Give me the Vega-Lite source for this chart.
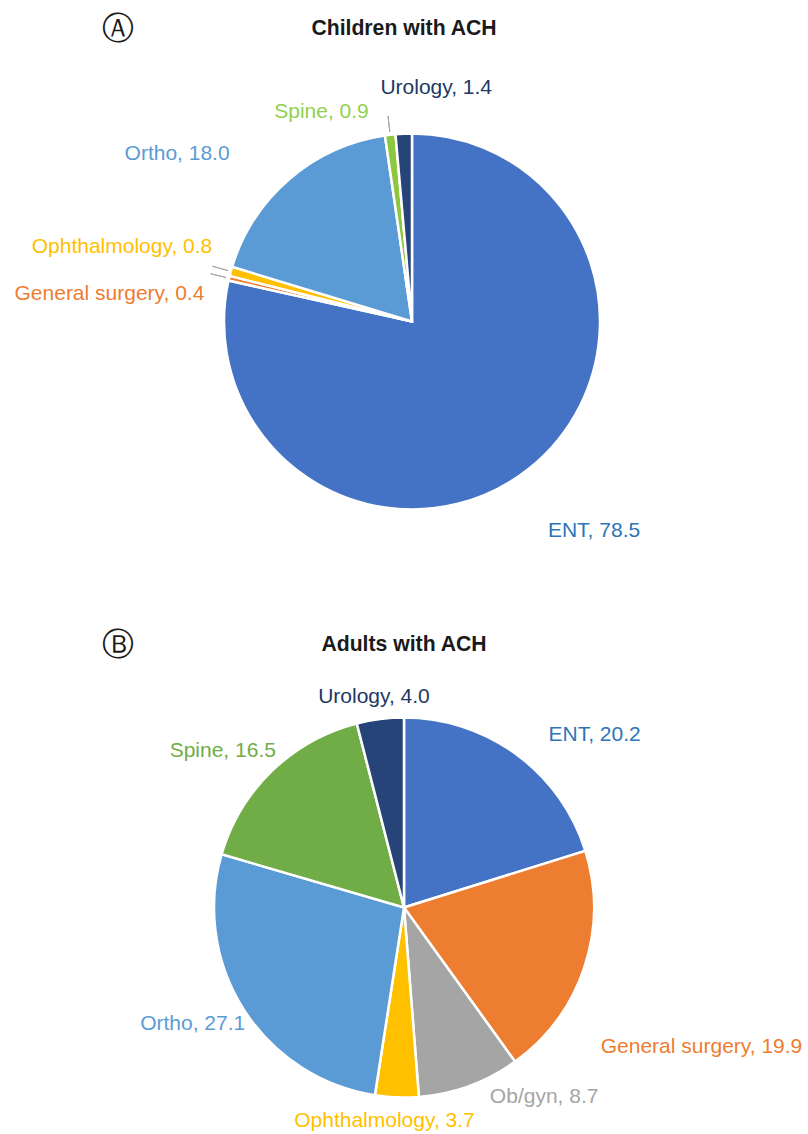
{
  "$schema": "https://vega.github.io/schema/vega-lite/v6.json",
  "padding": {"top": 12, "left": 0, "right": 0, "bottom": 0},
  "background": "white",
  "spacing": 28,
  "config": {
    "view": {"stroke": null},
    "font": "Liberation Sans",
    "title": {"font": "Liberation Sans", "fontSize": 21.2, "fontWeight": "bold", "color": "#1a1a1a", "anchor": "middle"}
  },
  "resolve": {"scale": {"theta": "independent", "fill": "independent", "color": "independent"}},
  "datasets": {
    "children": [
      {"Category": "ENT", "pct": 78.5, "label": "ENT, 78.5"},
      {"Category": "General surgery", "pct": 0.4, "label": "General surgery, 0.4"},
      {"Category": "Ophthalmology", "pct": 0.8, "label": "Ophthalmology, 0.8"},
      {"Category": "Ortho", "pct": 18.0, "label": "Ortho, 18.0"},
      {"Category": "Spine", "pct": 0.9, "label": "Spine, 0.9"},
      {"Category": "Urology", "pct": 1.4, "label": "Urology, 1.4"}
    ],
    "adults": [
      {"Category": "ENT", "pct": 20.2, "label": "ENT, 20.2"},
      {"Category": "General surgery", "pct": 19.9, "label": "General surgery, 19.9"},
      {"Category": "Ob/gyn", "pct": 8.7, "label": "Ob/gyn, 8.7"},
      {"Category": "Ophthalmology", "pct": 3.7, "label": "Ophthalmology, 3.7"},
      {"Category": "Ortho", "pct": 27.1, "label": "Ortho, 27.1"},
      {"Category": "Spine", "pct": 16.5, "label": "Spine, 16.5"},
      {"Category": "Urology", "pct": 4.0, "label": "Urology, 4.0"}
    ]
  },
  "vconcat": [
    {
      "title": {"text": "Ⓐ", "anchor": "start", "font": "DejaVu Sans", "fontSize": 32, "fontWeight": "normal", "color": "#1a1a1a", "dx": 102, "offset": -28},
      "vconcat": [
        {
          "title": {"text": "Children with ACH", "offset": 4},
          "width": 808,
          "height": 557,
          "data": {"name": "children"},
          "layer": [
            {
              "mark": {"type": "arc", "outerRadius": 188, "stroke": "white", "strokeWidth": 2.5, "xOffset": 8},
              "encoding": {
                "theta": {"field": "pct", "type": "quantitative", "stack": true},
                "order": {"field": "Category", "type": "nominal", "sort": "ascending"},
                "fill": {"field": "Category", "type": "nominal", "legend": null,
                  "scale": {"domain": ["ENT", "General surgery", "Ophthalmology", "Ortho", "Spine", "Urology"],
                            "range": ["#4472C4", "#ED7D31", "#FFC000", "#5B9BD5", "#8DC63F", "#264478"]}}
              }
            },
            {
              "mark": {"type": "arc", "innerRadius": 191, "outerRadius": 207, "padAngle": 0.6, "filled": false, "stroke": "#A6A6A6", "strokeWidth": 1, "xOffset": 8},
              "encoding": {
                "theta": {"field": "pct", "type": "quantitative", "stack": true},
                "order": {"field": "Category", "type": "nominal", "sort": "ascending"},
                "detail": {"field": "Category", "type": "nominal"},
                "strokeOpacity": {"condition": {"test": "datum.Category === 'Spine' || datum.Category === 'Ophthalmology' || datum.Category === 'General surgery'", "value": 1}, "value": 0}
              }
            },
            {
              "mark": {
                "type": "text", "radius": 200, "xOffset": 8, "fontSize": 21, "font": "Liberation Sans", "baseline": "middle",
                "align": {"expr": "datum.Category === 'ENT' || datum.Category === 'Urology' ? 'center' : 'right'"},
                "dx": {"expr": "datum.Category === 'ENT' ? 57 : datum.Category === 'General surgery' ? -13 : datum.Category === 'Ophthalmology' ? -7 : datum.Category === 'Ortho' ? -52 : datum.Category === 'Spine' ? -20 : 33"},
                "dy": {"expr": "datum.Category === 'ENT' ? 53 : datum.Category === 'General surgery' ? 19 : datum.Category === 'Ophthalmology' ? -21 : datum.Category === 'Ortho' ? -16 : datum.Category === 'Spine' ? -11 : -34"}
              },
              "encoding": {
                "theta": {"field": "pct", "type": "quantitative", "stack": true},
                "order": {"field": "Category", "type": "nominal", "sort": "ascending"},
                "text": {"field": "label", "type": "nominal"},
                "color": {"field": "Category", "type": "nominal", "legend": null,
                  "scale": {"domain": ["ENT", "General surgery", "Ophthalmology", "Ortho", "Spine", "Urology"],
                            "range": ["#2E75B6", "#ED7D31", "#FFC000", "#5B9BD5", "#92D050", "#203864"]}}
              }
            }
          ]
        }
      ]
    },
    {
      "title": {"text": "Ⓑ", "anchor": "start", "font": "DejaVu Sans", "fontSize": 32, "fontWeight": "normal", "color": "#1a1a1a", "dx": 102, "offset": -28},
      "vconcat": [
        {
          "title": {"text": "Adults with ACH", "offset": 24},
          "width": 808,
          "height": 457,
          "data": {"name": "adults"},
          "layer": [
            {
              "mark": {"type": "arc", "outerRadius": 190, "stroke": "white", "strokeWidth": 2.5},
              "encoding": {
                "theta": {"field": "pct", "type": "quantitative", "stack": true},
                "order": {"field": "Category", "type": "nominal", "sort": "ascending"},
                "fill": {"field": "Category", "type": "nominal", "legend": null,
                  "scale": {"domain": ["ENT", "General surgery", "Ob/gyn", "Ophthalmology", "Ortho", "Spine", "Urology"],
                            "range": ["#4472C4", "#ED7D31", "#A5A5A5", "#FFC000", "#5B9BD5", "#70AD47", "#264478"]}}
              }
            },
            {
              "mark": {
                "type": "text", "radius": 200, "fontSize": 21, "font": "Liberation Sans", "baseline": "middle",
                "align": {"expr": "datum.Category === 'Ophthalmology' || datum.Category === 'Urology' ? 'center' : (datum.Category === 'Ortho' || datum.Category === 'Spine') ? 'right' : 'left'"},
                "dx": {"expr": "datum.Category === 'ENT' ? 26 : datum.Category === 'General surgery' ? 7 : datum.Category === 'Ob/gyn' ? 17 : datum.Category === 'Ophthalmology' ? -12 : datum.Category === 'Ortho' ? 10 : datum.Category === 'Spine' ? 11 : -5"},
                "dy": {"expr": "datum.Category === 'ENT' ? -11 : datum.Category === 'General surgery' ? 76 : datum.Category === 'Ob/gyn' ? 2 : datum.Category === 'Ophthalmology' ? 14 : datum.Category === 'Ortho' ? 9 : datum.Category === 'Spine' ? -13 : -12"}
              },
              "encoding": {
                "theta": {"field": "pct", "type": "quantitative", "stack": true},
                "order": {"field": "Category", "type": "nominal", "sort": "ascending"},
                "text": {"field": "label", "type": "nominal"},
                "color": {"field": "Category", "type": "nominal", "legend": null,
                  "scale": {"domain": ["ENT", "General surgery", "Ob/gyn", "Ophthalmology", "Ortho", "Spine", "Urology"],
                            "range": ["#2E75B6", "#ED7D31", "#A5A5A5", "#FFC000", "#5B9BD5", "#70AD47", "#203864"]}}
              }
            }
          ]
        }
      ]
    }
  ]
}
